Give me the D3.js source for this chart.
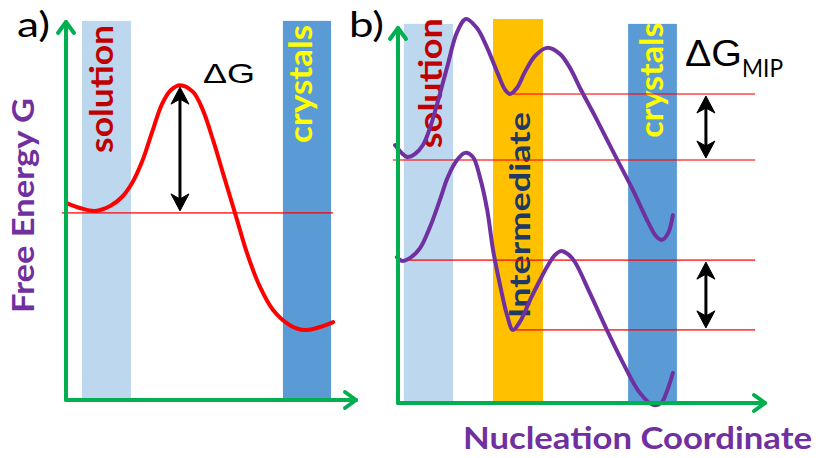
<!DOCTYPE html>
<html>
<head>
<meta charset="utf-8">
<script src="https://cdn.jsdelivr.net/npm/d3@7"></script>
<style>
  body { margin: 0; background: #fff; }
  svg { display: block; }
</style>
</head>
<body>
<svg id="chart" width="816" height="458"></svg>
<script>
// ---- Panel a: classical nucleation, one barrier ----
const aCoord  = [0.03, 0.48, 1.00, 1.52, 1.93, 2.28, 2.62, 2.97, 3.31, 3.62, 3.93, 4.38, 4.72, 5.07, 5.41, 5.90, 6.24, 6.69, 7.14, 7.72, 8.24, 8.76, 9.21];
const aEnergy = [5.21, 5.08, 5.00, 5.13, 5.37, 5.74, 6.30, 7.09, 7.83, 8.20, 8.33, 8.15, 7.67, 6.88, 6.01, 4.76, 3.89, 2.99, 2.38, 1.98, 1.85, 1.93, 2.06];
const aBands  = [
  { label: "solution", start: 0.55, end: 2.24, top: 10.03 },
  { label: "crystals", start: 7.48, end: 9.14, top: 10.03 }
];
const aLevels = [{ energy: 4.95, from: -0.14, to: 9.21 }];
const aArrows = [{ coord: 3.93, from: 4.95, to: 8.33 }];

// ---- Panel b: two-step nucleation through an intermediate ----
const bUpperCoord  = [-0.08, 0.25, 0.46, 0.68, 0.87, 1.06, 1.34, 1.61, 1.85, 2.15, 2.43, 2.70, 2.92, 3.05, 3.24, 3.46, 3.73, 4.06, 4.41, 4.69, 4.96, 5.42, 5.91, 6.40, 6.81, 7.03, 7.19, 7.36, 7.49];
const bUpperEnergy = [6.88, 6.56, 6.64, 6.88, 7.33, 7.95, 8.96, 9.89, 10.24, 10.00, 9.47, 8.83, 8.35, 8.24, 8.40, 8.83, 9.25, 9.47, 9.31, 8.93, 8.40, 7.55, 6.61, 5.68, 4.83, 4.45, 4.35, 4.53, 5.01];
const bLowerCoord  = [-0.03, 0.11, 0.33, 0.60, 0.87, 1.14, 1.36, 1.61, 1.83, 2.04, 2.23, 2.43, 2.59, 2.78, 2.97, 3.13, 3.32, 3.60, 3.87, 4.09, 4.28, 4.44, 4.63, 4.82, 5.23, 5.69, 6.13, 6.59, 6.95, 7.17, 7.33, 7.49];
const bLowerEnergy = [3.89, 3.79, 3.87, 4.13, 4.69, 5.41, 6.03, 6.48, 6.67, 6.56, 6.03, 5.15, 4.08, 3.15, 2.35, 1.95, 2.16, 2.75, 3.28, 3.68, 3.95, 4.05, 3.97, 3.76, 2.93, 1.95, 1.07, 0.27, -0.05, 0.00, 0.32, 0.80];
const bBands = [
  { label: "solution",     start: 0.16, end: 1.50, top: 10.11 },
  { label: "Intermediate", start: 2.59, end: 3.95, top: 10.24 },
  { label: "crystals",     start: 6.27, end: 7.60, top: 10.11 }
];
const bLevels = [
  { energy: 8.24, from: 3.13,  to: 9.73 },
  { energy: 6.48, from: -0.14, to: 9.73 },
  { energy: 3.81, from: -0.03, to: 9.73 },
  { energy: 1.95, from: 3.13,  to: 9.73 }
];
const bArrows = [
  { coord: 8.39, from: 6.48, to: 8.24 },
  { coord: 8.39, from: 1.95, to: 3.81 }
];

const axisTitles = { y: "Free Energy G", x: "Nucleation Coordinate" };

// ---- styling ----
const bandFill  = { solution: "#bdd7ee", crystals: "#5b9bd5", Intermediate: "#ffc000" };
const labelFill = { solution: "#c00000", crystals: "#ffff00", Intermediate: "#203864" };
const GREEN = "#00b050", PURPLE = "#7030a0";
const SANS = "Lato, 'Open Sans', sans-serif";
const ARIAL = "'Liberation Sans', Arial, sans-serif";

const svg = d3.select("#chart");

const xA = d3.scaleLinear().domain([0, 10]).range([66, 356]);
const yA = d3.scaleLinear().domain([0, 10]).range([400, 22]);
const xB = d3.scaleLinear().domain([0, 10]).range([398, 765]);
const yB = d3.scaleLinear().domain([0, 10]).range([403, 28]);

// label placement inside each band: horizontal shift of the baseline (px),
// vertical centre (energy units), font size and drawn length (px)
const labelLayout = {
  a: {
    solution: { dx: 7,  at: 8.23, size: 32, len: 128 },
    crystals: { dx: 5,  at: 8.36, size: 32, len: 118 }
  },
  b: {
    solution:     { dx: 14, at: 8.53, size: 32, len: 130 },
    Intermediate: { dx: 12, at: 5.01, size: 29, len: 206 },
    crystals:     { dx: 10, at: 8.61, size: 32, len: 115 }
  }
};

function drawPanel(g, key, x, y, bands, curves, levels, arrows, curveColor) {
  // coloured state bands
  g.selectAll("rect.band").data(bands).join("rect")
    .attr("class", "band")
    .attr("x", d => x(d.start))
    .attr("width", d => x(d.end) - x(d.start))
    .attr("y", d => y(d.top))
    .attr("height", d => y(0) - y(d.top))
    .attr("fill", d => bandFill[d.label]);

  // band names, written bottom-to-top
  g.selectAll("text.bandlabel").data(bands).join("text")
    .attr("class", "bandlabel")
    .attr("transform", d => {
      const L = labelLayout[key][d.label];
      return `translate(${(x(d.start) + x(d.end)) / 2 + L.dx},${y(L.at)}) rotate(-90)`;
    })
    .attr("text-anchor", "middle")
    .attr("font-family", SANS)
    .attr("font-weight", 700)
    .attr("font-size", d => labelLayout[key][d.label].size)
    .attr("textLength", d => labelLayout[key][d.label].len)
    .attr("lengthAdjust", "spacingAndGlyphs")
    .attr("fill", d => labelFill[d.label])
    .text(d => d.label);

  // reference energy levels
  g.selectAll("line.level").data(levels).join("line")
    .attr("class", "level")
    .attr("x1", d => x(d.from)).attr("x2", d => x(d.to))
    .attr("y1", d => y(d.energy)).attr("y2", d => y(d.energy))
    .attr("stroke", "#ff0000").attr("stroke-opacity", 0.72)
    .attr("stroke-width", 1.6);

  // free-energy profiles
  const line = d3.line()
    .x(d => x(d[0])).y(d => y(d[1]))
    .curve(d3.curveCatmullRom.alpha(0.5));
  g.selectAll("path.profile").data(curves).join("path")
    .attr("class", "profile")
    .attr("d", line)
    .attr("fill", "none")
    .attr("stroke", curveColor)
    .attr("stroke-width", 4)
    .attr("stroke-linecap", "round")
    .attr("stroke-linejoin", "round");

  // barrier height double arrows
  const head = (px, py, dir) =>
    `M${px},${py} L${px - 9},${py + dir * 17} L${px},${py + dir * 12} L${px + 9},${py + dir * 17} Z`;
  arrows.forEach(a => {
    const px = x(a.coord), yTop = y(a.to) + 2, yBot = y(a.from) - 2;
    g.append("line")
      .attr("x1", px).attr("x2", px)
      .attr("y1", yTop + 10).attr("y2", yBot - 10)
      .attr("stroke", "#000").attr("stroke-width", 3);
    g.append("path").attr("d", head(px, yTop, 1)).attr("fill", "#000")
      .attr("stroke", "#000").attr("stroke-width", 1);
    g.append("path").attr("d", head(px, yBot, -1)).attr("fill", "#000")
      .attr("stroke", "#000").attr("stroke-width", 1);
  });

  // green axes with open arrowheads
  const ox = x(0), oy = y(0), tx = x(10), ty = y(10);
  const axes = g.append("g").attr("fill", "none").attr("stroke", GREEN)
    .attr("stroke-width", 4).attr("stroke-linecap", "round").attr("stroke-linejoin", "round");
  axes.append("path").attr("d", `M${ox},${oy} L${ox},${ty}`);
  axes.append("path").attr("d", `M${ox},${oy} L${tx},${oy}`);
  axes.append("path").attr("d", `M${ox - 8},${ty + 11} L${ox},${ty} L${ox + 8},${ty + 11}`);
  axes.append("path").attr("d", `M${tx - 11},${oy - 8} L${tx},${oy} L${tx - 11},${oy + 8}`);
}

const zip = (xs, ys) => xs.map((v, i) => [v, ys[i]]);

drawPanel(svg.append("g"), "a", xA, yA, aBands,
  [zip(aCoord, aEnergy)], aLevels, aArrows, "#ff0000");
drawPanel(svg.append("g"), "b", xB, yB, bBands,
  [zip(bUpperCoord, bUpperEnergy), zip(bLowerCoord, bLowerEnergy)], bLevels, bArrows, PURPLE);

// panel tags
svg.append("text").attr("x", 17).attr("y", 37)
  .attr("font-family", SANS).attr("font-size", 35)
  .attr("textLength", 33).attr("lengthAdjust", "spacingAndGlyphs")
  .attr("fill", "#000").text("a)");
svg.append("text").attr("x", 349).attr("y", 37)
  .attr("font-family", SANS).attr("font-size", 35)
  .attr("textLength", 35).attr("lengthAdjust", "spacingAndGlyphs")
  .attr("fill", "#000").text("b)");

// barrier labels
svg.append("text").attr("x", 203).attr("y", 83)
  .attr("font-family", ARIAL).attr("font-size", 28)
  .attr("textLength", 52).attr("lengthAdjust", "spacingAndGlyphs")
  .attr("fill", "#000").text("ΔG");
svg.append("text").attr("x", 685).attr("y", 66)
  .attr("font-family", ARIAL).attr("font-size", 36)
  .attr("textLength", 57).attr("lengthAdjust", "spacingAndGlyphs")
  .attr("fill", "#000").text("ΔG");
svg.append("text").attr("x", 742).attr("y", 77)
  .attr("font-family", SANS).attr("font-size", 25)
  .attr("textLength", 41).attr("lengthAdjust", "spacingAndGlyphs")
  .attr("fill", "#000").text("MIP");

// axis titles
svg.append("text")
  .attr("transform", "translate(34,205.5) rotate(-90)")
  .attr("text-anchor", "middle")
  .attr("font-family", SANS).attr("font-weight", 700)
  .attr("font-size", 31).attr("textLength", 215).attr("lengthAdjust", "spacingAndGlyphs")
  .attr("fill", PURPLE).text(axisTitles.y);
svg.append("text")
  .attr("x", 463).attr("y", 449)
  .attr("font-family", SANS).attr("font-weight", 700)
  .attr("font-size", 31).attr("textLength", 349).attr("lengthAdjust", "spacingAndGlyphs")
  .attr("fill", PURPLE).text(axisTitles.x);
</script>
</body>
</html>
